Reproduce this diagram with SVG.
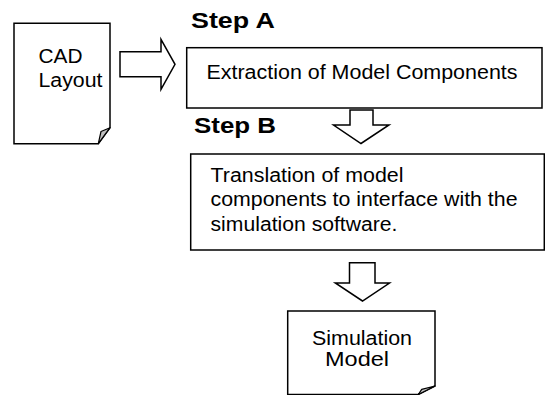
<svg xmlns="http://www.w3.org/2000/svg" width="545" height="395" viewBox="0 0 545 395">
<style>
.shape{fill:#fff;stroke:#000;stroke-width:1.5;stroke-linejoin:miter}
.fold{fill:#c0c0c0;stroke:#000;stroke-width:1.2;stroke-linejoin:round}
.arrow{fill:#fff;stroke:#000;stroke-width:1.5;stroke-linejoin:miter}
.t{font-family:"Liberation Sans",Arial,sans-serif;font-size:19.5px;fill:#000}
.h{font-family:"Liberation Sans",Arial,sans-serif;font-size:22.5px;font-weight:bold;fill:#000}
</style>
<rect width="545" height="395" fill="#fff"/>
<g id="cad-layout">
<polygon class="shape" points="14,23.3 110,23.3 110,127.7 98.3,143.7 14,143.7"/>
<polygon class="fold" points="110,127.7 101,131.5 98.3,143.7"/>
<text class="t" x="38.5" y="62.5" textLength="44" lengthAdjust="spacingAndGlyphs">CAD</text>
<text class="t" x="38.5" y="87" textLength="64" lengthAdjust="spacingAndGlyphs">Layout</text>
</g>
<g id="step-a-label">
<text class="h" x="191" y="27.5" textLength="84" lengthAdjust="spacingAndGlyphs">Step A</text>
</g>
<g id="step-a">
<rect class="shape" x="186.7" y="47.7" width="355.3" height="60.3"/>
<text class="t" x="206.5" y="78.5" textLength="311" lengthAdjust="spacingAndGlyphs">Extraction of Model Components</text>
</g>
<g id="step-b-label">
<text class="h" x="194" y="133" textLength="82" lengthAdjust="spacingAndGlyphs">Step B</text>
</g>
<g id="step-b">
<rect class="shape" x="190.7" y="154" width="353.6" height="96"/>
<text class="t" x="210.5" y="181.5" textLength="193" lengthAdjust="spacingAndGlyphs">Translation of model</text>
<text class="t" x="210.5" y="206" textLength="307" lengthAdjust="spacingAndGlyphs">components to interface with the</text>
<text class="t" x="210.5" y="230.5" textLength="187" lengthAdjust="spacingAndGlyphs">simulation software.</text>
</g>
<g id="simulation-model">
<polygon class="shape" points="287.7,311 435,311 435,386 418.3,394.5 287.7,394.5"/>
<polygon class="fold" points="435,386 421.7,389.3 418.3,394.5"/>
<text class="t" x="312" y="345" textLength="100" lengthAdjust="spacingAndGlyphs">Simulation</text>
<text class="t" x="325" y="366" textLength="64" lengthAdjust="spacingAndGlyphs">Model</text>
</g>
<g id="connectors">
<polygon class="arrow" points="120,51.7 161,51.7 161,39.3 175,64.3 161,89.3 161,76.7 120,76.7"/>
<polygon class="arrow" points="350,110 373,110 373,125 389,125 361,143.5 333.5,125 350,125"/>
<polygon class="arrow" points="349.5,262.7 375,262.7 375,283 389.5,283 362.5,301 335.3,283 349.5,283"/>
</g>
</svg>
